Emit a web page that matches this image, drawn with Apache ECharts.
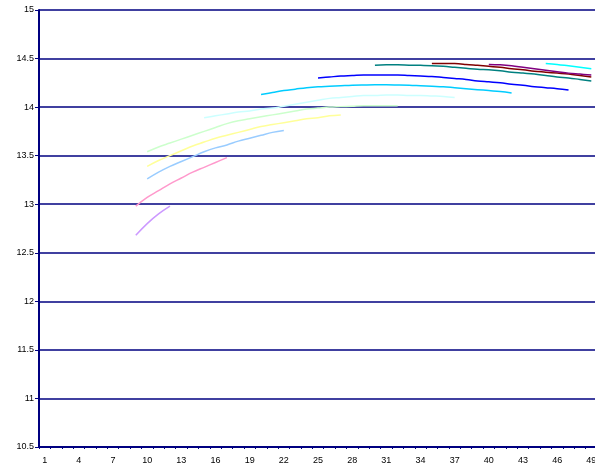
<!DOCTYPE html>
<html>
<head>
<meta charset="utf-8">
<script src="https://cdn.jsdelivr.net/npm/echarts@6/dist/echarts.min.js"></script>
<style>
  html, body { margin: 0; padding: 0; background: #ffffff; }
  #chart { width: 595px; height: 472px; }
</style>
</head>
<body>
<div id="chart"></div>
<script>
// Category axis 1..49
const categories = Array.from({ length: 49 }, (_, i) => String(i + 1));

// Each curve: first category and its values from there on
const startCats = [9, 9, 10, 10, 10, 15, 20, 25, 30, 35, 40, 45];

const curveViolet = [12.68, 12.80, 12.90, 12.98];
const curvePink = [12.98, 13.07, 13.14, 13.21, 13.27, 13.33, 13.38, 13.43, 13.48];
const curveLightBlue = [13.26, 13.33, 13.39, 13.44, 13.49, 13.54, 13.58, 13.61, 13.65, 13.68, 13.71, 13.74, 13.76];
const curveYellow = [13.39, 13.45, 13.50, 13.55, 13.60, 13.64, 13.68, 13.71, 13.74, 13.77, 13.80, 13.82, 13.84, 13.86, 13.88, 13.89, 13.91, 13.92];
const curveLightGreen = [13.54, 13.59, 13.63, 13.67, 13.71, 13.75, 13.79, 13.83, 13.86, 13.88, 13.90, 13.92, 13.94, 13.96, 13.98, 13.99, 14.00, 14.005, 14.01, 14.015, 14.015, 14.015, 14.015];
const curveLightCyan = [13.89, 13.91, 13.93, 13.95, 13.96, 13.98, 13.99, 14.01, 14.03, 14.05, 14.07, 14.09, 14.10, 14.11, 14.12, 14.12, 14.125, 14.125, 14.12, 14.12, 14.115, 14.11, 14.10];
const curveSky = [14.13, 14.15, 14.17, 14.185, 14.20, 14.21, 14.215, 14.22, 14.225, 14.228, 14.23, 14.23, 14.228, 14.225, 14.22, 14.215, 14.21, 14.20, 14.19, 14.18, 14.17, 14.16, 14.145];
const curveBlue = [14.30, 14.31, 14.32, 14.325, 14.33, 14.33, 14.33, 14.33, 14.325, 14.32, 14.315, 14.305, 14.295, 14.285, 14.27, 14.26, 14.25, 14.235, 14.225, 14.21, 14.20, 14.19, 14.175];
const curveTeal = [14.43, 14.435, 14.435, 14.432, 14.43, 14.427, 14.42, 14.41, 14.40, 14.39, 14.385, 14.375, 14.36, 14.35, 14.34, 14.325, 14.31, 14.30, 14.285, 14.27];
const curveMaroon = [14.45, 14.45, 14.448, 14.44, 14.43, 14.42, 14.41, 14.395, 14.385, 14.37, 14.36, 14.35, 14.34, 14.325, 14.31];
const curvePurple = [14.44, 14.435, 14.425, 14.41, 14.395, 14.38, 14.365, 14.35, 14.34, 14.33];
const curveAqua = [14.45, 14.44, 14.425, 14.41, 14.395];

const curves = [curveViolet, curvePink, curveLightBlue, curveYellow, curveLightGreen, curveLightCyan,
                curveSky, curveBlue, curveTeal, curveMaroon, curvePurple, curveAqua];
const colors = ['#cc99ff', '#ff99cc', '#99ccff', '#ffff99', '#ccffcc', '#ccffff',
                '#00ccff', '#0000ff', '#008080', '#800000', '#800080', '#00ffff'];

// Y axis range
const yMin = 10.5, yMax = 15, yStep = 0.5;

function padded(values, start) {
  const row = new Array(categories.length).fill(null);
  values.forEach((v, i) => { row[start - 1 + i] = v; });
  return row;
}

const series = curves.map((vals, k) => ({
  type: 'line',
  data: padded(vals, startCats[k]),
  smooth: 0.4,
  showSymbol: false,
  symbol: 'none',
  connectNulls: false,
  lineStyle: { color: colors[k], width: 1.5 },
  itemStyle: { color: colors[k] },
  z: 3 + k
}));

const chart = echarts.init(document.getElementById('chart'), null, { renderer: 'canvas' });
chart.setOption({
  animation: false,
  backgroundColor: '#ffffff',
  grid: { left: 39, top: 10, width: 558, bottom: 25, containLabel: false, outerBoundsMode: 'none' },
  xAxis: {
    type: 'category',
    data: categories,
    boundaryGap: true,
    axisLine: { lineStyle: { color: '#000080', width: 2 } },
    axisTick: { show: true, interval: 0, length: 2, lineStyle: { color: '#000080', width: 1 } },
    axisLabel: { interval: 2, color: '#000000', fontSize: 9, fontFamily: 'Liberation Sans, Arial', margin: 9 },
    splitLine: { show: false }
  },
  yAxis: {
    type: 'value',
    min: yMin,
    max: yMax,
    interval: yStep,
    axisLine: { show: true, lineStyle: { color: '#000080', width: 2 } },
    axisTick: { show: true, length: 4, lineStyle: { color: '#000080', width: 1 } },
    axisLabel: { color: '#000000', fontSize: 9, fontFamily: 'Liberation Sans, Arial', margin: 5 },
    splitLine: { show: true, lineStyle: { color: '#000080', width: 1.5 } }
  },
  series: series
});
</script>
</body>
</html>
